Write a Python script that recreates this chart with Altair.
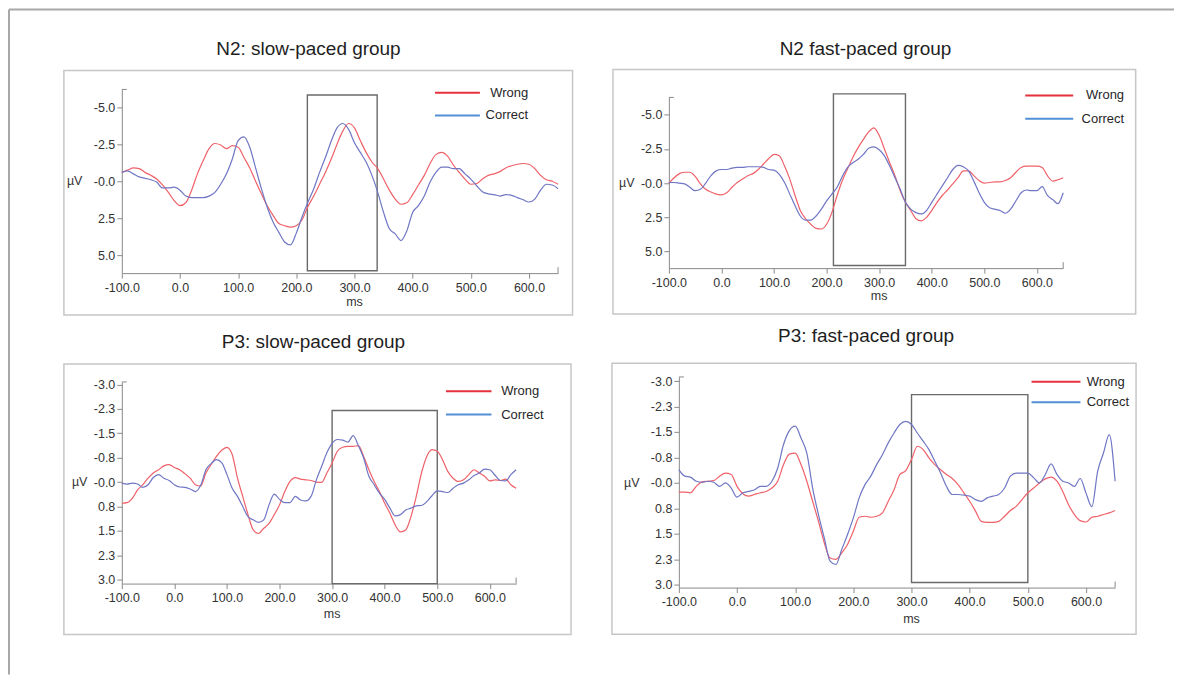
import json
import altair as alt
import pandas as pd

# ---------------- data ----------------
MS = [-100, -90, -80, -70, -60, -50, -40, -30, -20, -10,
      0, 10, 20, 30, 40, 50, 60, 70, 80, 90,
      100, 110, 120, 130, 140, 150, 160, 170, 180, 190,
      200, 210, 220, 230, 240, 250, 260, 270, 280, 290,
      300, 310, 320, 330, 340, 350, 360, 370, 380, 390,
      400, 410, 420, 430, 440, 450, 460, 470, 480, 490,
      500, 510, 520, 530, 540, 550, 560, 570, 580, 590,
      600, 610, 620, 630, 640, 650]

N2_SLOW_WRONG = [-0.6, -0.75, -0.9, -0.85, -0.6, -0.4, -0.15, 0.25, 0.75, 1.3,
                 1.65, 1.45, 0.6, -0.5, -1.4, -2.2, -2.55, -2.45, -2.2, -2.4,
                 -2.3, -1.6, -0.9, 0.0, 0.85, 1.65, 2.3, 2.85, 3.0, 3.1,
                 3.0, 2.6, 1.7, 1.0, 0.2, -0.6, -1.5, -2.5, -3.4, -3.9,
                 -3.6, -2.75, -1.95, -1.3, -0.85, -0.15, 0.6, 1.2, 1.55, 1.45,
                 0.9, 0.25, -0.4, -1.2, -1.8, -1.95, -1.7, -1.1, -0.6, -0.15,
                 0.2, 0.15, -0.15, -0.4, -0.5, -0.65, -0.9, -1.05, -1.15, -1.2,
                 -1.15, -0.85, -0.4, -0.1, 0.0, 0.2]
N2_SLOW_CORRECT = [-0.6, -0.7, -0.5, -0.3, -0.2, -0.1, 0.05, 0.45, 0.45, 0.4,
                   0.6, 1.0, 1.1, 1.1, 1.1, 1.0, 0.75, 0.2, -0.5, -1.5,
                   -2.75, -3.0, -2.3, -0.9, 0.5, 1.75, 2.75, 3.45, 4.1, 4.3,
                   3.5, 2.4, 1.4, 0.5, -0.6, -1.6, -2.7, -3.6, -3.9, -3.5,
                   -2.6, -1.95, -1.3, -0.4, 0.75, 2.1, 3.2, 3.55, 4.0, 3.35,
                   2.1, 1.65, 1.0, 0.05, -0.6, -0.95, -0.95, -0.85, -0.85, -0.5,
                   -0.15, 0.3, 0.7, 0.85, 0.9, 1.0, 0.9, 0.95, 1.1, 1.25,
                   1.4, 1.2, 0.6, 0.2, 0.25, 0.5]

N2_FAST_WRONG = [0.0, -0.4, -0.7, -0.8, -0.8, -0.5, 0.05, 0.45, 0.65, 0.8,
                 0.85, 0.7, 0.3, -0.05, -0.3, -0.55, -0.7, -1.0, -1.4, -1.8,
                 -2.1, -2.0, -1.25, -0.3, 0.9, 2.0, 2.6, 3.0, 3.3, 3.35,
                 3.0, 2.15, 0.9, -0.2, -1.05, -1.9, -2.6, -3.2, -3.75, -4.05,
                 -3.5, -2.5, -1.5, -0.55, 0.55, 1.4, 2.0, 2.6, 2.75, 2.5,
                 2.0, 1.4, 0.9, 0.5, 0.05, -0.4, -0.9, -0.9, -0.55, -0.2,
                 0.0, -0.05, -0.1, -0.1, -0.2, -0.4, -0.8, -1.15, -1.25, -1.25,
                 -1.25, -1.15, -0.55, -0.15, -0.25, -0.4]
N2_FAST_CORRECT = [-0.05, -0.05, 0.0, 0.05, 0.3, 0.55, 0.45, 0.0, -0.55, -0.9,
                   -1.0, -1.0, -1.1, -1.15, -1.15, -1.2, -1.2, -1.2, -1.15, -1.0,
                   -0.95, -0.65, -0.05, 0.8, 1.65, 2.4, 2.7, 2.7, 2.4, 1.9,
                   1.3, 0.8, 0.3, -0.5, -1.15, -1.5, -1.75, -2.1, -2.55, -2.65,
                   -2.45, -2.0, -1.25, -0.4, 0.45, 1.4, 1.9, 2.15, 2.25, 2.0,
                   1.4, 0.8, 0.2, -0.4, -1.0, -1.3, -1.2, -0.9, -0.15, 0.7,
                   1.4, 1.8, 1.9, 2.0, 2.2, 1.9, 1.3, 0.7, 0.5, 0.55,
                   0.55, 0.25, 0.9, 1.2, 1.5, 0.7]

P3_SLOW_WRONG = [0.65, 0.63, 0.5, 0.24, 0.08, -0.12, -0.28, -0.38, -0.5, -0.54,
                 -0.45, -0.38, -0.26, -0.12, 0.08, 0.12, -0.28, -0.54, -0.79, -0.98,
                 -1.07, -0.85, -0.12, 0.44, 1.0, 1.47, 1.58, 1.42, 1.27, 1.0,
                 0.7, 0.29, -0.02, -0.14, -0.09, -0.07, -0.05, 0.0, 0.01, -0.28,
                 -0.59, -0.95, -1.07, -1.1, -1.1, -1.12, -0.79, -0.38, -0.02, 0.29,
                 0.65, 0.96, 1.32, 1.53, 1.47, 1.06, 0.44, -0.28, -0.79, -1.0,
                 -0.95, -0.69, -0.33, -0.12, -0.02, -0.07, -0.23, -0.38, -0.28, -0.18,
                 -0.04, -0.07, -0.05, -0.09, 0.08, 0.19]
P3_SLOW_CORRECT = [0.03, 0.06, 0.03, 0.06, 0.16, 0.08, -0.14, -0.23, -0.12, -0.05,
                   0.08, 0.15, 0.16, 0.21, 0.29, 0.1, -0.38, -0.57, -0.69, -0.6,
                   -0.23, 0.19, 0.44, 0.75, 1.06, 1.16, 1.24, 1.16, 0.7, 0.37,
                   0.53, 0.63, 0.63, 0.44, 0.55, 0.58, 0.44, -0.07, -0.48, -0.9,
                   -1.19, -1.31, -1.29, -1.23, -1.43, -1.12, -0.74, -0.18, 0.08, 0.34,
                   0.53, 0.8, 1.04, 1.0, 0.86, 0.8, 0.73, 0.72, 0.6, 0.42,
                   0.27, 0.29, 0.32, 0.19, 0.08, 0.03, -0.07, -0.2, -0.28, -0.4,
                   -0.38, -0.21, -0.05, -0.04, -0.23, -0.38]

P3_FAST_WRONG = [0.27, 0.27, 0.29, 0.1, -0.03, -0.05, -0.07, -0.2, -0.29, -0.25,
                 0.1, 0.32, 0.39, 0.34, 0.29, 0.25, 0.15, -0.05, -0.54, -0.85,
                 -0.88, -0.54, -0.05, 0.54, 1.13, 1.76, 2.21, 2.25, 2.06, 1.81,
                 1.42, 1.01, 0.98, 1.01, 0.98, 0.88, 0.54, 0.2, -0.25, -0.36,
                 -0.69, -1.08, -0.98, -0.74, -0.54, -0.39, -0.25, -0.13, 0.05, 0.29,
                 0.54, 0.83, 1.13, 1.16, 1.16, 1.13, 0.98, 0.81, 0.69, 0.49,
                 0.29, 0.15, 0.0, -0.12, -0.17, -0.05, 0.25, 0.64, 0.93, 1.11,
                 1.15, 1.01, 0.98, 0.93, 0.88, 0.81]
P3_FAST_CORRECT = [-0.39, -0.2, -0.17, -0.05, -0.02, -0.05, -0.02, 0.1, 0.0, 0.15,
                   0.42, 0.29, 0.25, 0.2, 0.1, 0.1, -0.05, -0.44, -1.13, -1.54,
                   -1.67, -1.32, -0.88, 0.15, 0.93, 1.62, 2.3, 2.4, 1.96, 1.52,
                   1.03, 0.44, 0.05, -0.2, -0.54, -0.83, -1.18, -1.47, -1.72, -1.81,
                   -1.72, -1.47, -1.23, -0.98, -0.64, -0.29, 0.1, 0.34, 0.34, 0.36,
                   0.39, 0.49, 0.54, 0.44, 0.39, 0.34, 0.15, -0.2, -0.29, -0.29,
                   -0.29, -0.15, 0.0, -0.25, -0.56, -0.25, -0.05, 0.0, 0.1, -0.13,
                   0.3, 0.7, -0.34, -0.88, -1.42, -0.05]

# analysis windows: [start ms, end ms, top uV, bottom uV]
WIN_N2_SLOW = [219, 339, -5.82, 6.04]
WIN_N2_FAST = [213, 350, -6.53, 6.02]
WIN_P3_SLOW = [300, 500, -2.2, 3.12]
WIN_P3_FAST = [300, 500, -2.6, 2.93]

TITLES = ["N2: slow-paced group", "N2 fast-paced group",
          "P3: slow-paced group", "P3: fast-paced group"]
SERIES = ["Wrong", "Correct"]

X_TICKS = [-100, 0, 100, 200, 300, 400, 500, 600]
X_LABELS = ["-100.0", "0.0", "100.0", "200.0", "300.0", "400.0", "500.0", "600.0"]
N2_Y_TICKS = [-5, -2.5, 0, 2.5, 5]
N2_Y_LABELS = ["-5.0", "-2.5", "-0.0", "2.5", "5.0"]
P3_Y_TICKS = [-3, -2.25, -1.5, -0.75, 0, 0.75, 1.5, 2.25, 3]
P3_Y_LABELS = ["-3.0", "-2.3", "-1.5", "-0.8", "-0.0", "0.8", "1.5", "2.3", "3.0"]

# ---------------- style ----------------
FONT = "Liberation Sans"
RED_LINE = "#ef6169"
BLUE_LINE = "#6f76c4"
RED_KEY = "#e6313b"
BLUE_KEY = "#5290d6"
AXIS_C = "#8a8a8a"
ONE = alt.Data(values=[{}])


def lab_expr(vals, labels):
    return "%s[indexof(%s, datum.value)]" % (json.dumps(labels), json.dumps(vals))


def rule(x1, x2, y1, y2, color, w):
    return alt.Chart(ONE).mark_rule(color=color, strokeWidth=w).encode(
        x=alt.value(x1), x2=alt.value(x2), y=alt.value(y1), y2=alt.value(y2))


def text(x, y, s, size, align, color="#262626", baseline="middle"):
    return alt.Chart(ONE).mark_text(text=s, align=align, baseline=baseline, fontSize=size,
                                    font=FONT, color=color).encode(x=alt.value(x), y=alt.value(y))


def panel(title, wrong, correct, win, yticks, ylabels, ydom, W, H, xr, yr,
          frame, title_xy, leg, uv_x, ms_y, yoff=0, extra=()):
    n = len(MS)
    df = pd.DataFrame({"ms": MS + MS, "uv": wrong + correct,
                       "cond": [SERIES[0]] * n + [SERIES[1]] * n})
    common = dict(title=None, grid=False, labelFlush=False, labelOverlap=False,
                  domainColor=AXIS_C, tickColor=AXIS_C, tickSize=5, labelFont=FONT,
                  labelFontSize=12.5, labelColor="#333333")
    xax = alt.Axis(values=X_TICKS, labelExpr=lab_expr(X_TICKS, X_LABELS), labelPadding=3, **common)
    yax = alt.Axis(values=yticks, labelExpr=lab_expr(yticks, ylabels), labelPadding=2,
                   offset=yoff, **common)
    X = alt.X("ms:Q", scale=alt.Scale(domain=[-100, 650], range=xr, nice=False, zero=False), axis=xax)
    Y = alt.Y("uv:Q", scale=alt.Scale(domain=ydom, range=yr, nice=False, zero=False), axis=yax)

    lines = alt.Chart(df).mark_line(strokeWidth=1.2, interpolate="monotone").encode(
        x=X, y=Y,
        color=alt.Color("cond:N", scale=alt.Scale(domain=SERIES, range=[RED_LINE, BLUE_LINE]), legend=None),
    )
    box_df = pd.DataFrame({"ms": [win[0]], "ms2": [win[1]], "uv": [win[2]], "uv2": [win[3]]})
    box = alt.Chart(box_df).mark_rect(fillOpacity=0, stroke="#6a6a6a", strokeWidth=1.4).encode(
        x=X, x2="ms2:Q", y=Y, y2="uv2:Q")

    fr = alt.Chart(ONE).mark_rect(fillOpacity=0, stroke="#c6c6c6", strokeWidth=1.5).encode(
        x=alt.value(frame[0]), x2=alt.value(frame[1]), y=alt.value(frame[2]), y2=alt.value(frame[3]))

    uv_lab = alt.Chart(pd.DataFrame({"uv": [0]})).mark_text(
        text="µV", align="left", baseline="middle", fontSize=12.5, font=FONT, color="#333333").encode(
        x=alt.value(uv_x), y=Y)
    ms_lab = alt.Chart(pd.DataFrame({"ms": [300]})).mark_text(
        text="ms", align="center", baseline="middle", fontSize=12.5, font=FONT, color="#333333").encode(
        x=X, y=alt.value(ms_y))

    lx1, lx2, ly1, ly2, tx, talign = leg
    layers = [fr, box, lines,
              rule(lx1, lx2, ly1, ly1, RED_KEY, 2),
              rule(lx1, lx2, ly2, ly2, BLUE_KEY, 2),
              text(tx, ly1, SERIES[0], 13, talign),
              text(tx, ly2, SERIES[1], 13, talign),
              text(title_xy[0], title_xy[1], title, 19, "center", "#1e1e1e", "alphabetic"),
              uv_lab, ms_lab,
              # axis end caps
              rule(xr[0], xr[0] + 5, yr[0], yr[0], AXIS_C, 1),
              rule(xr[1], xr[1], yr[1], yr[1] - 6, AXIS_C, 1)]
    layers += list(extra)
    return alt.layer(*layers).properties(width=W, height=H)


# page border (drawn within the first panel's coordinates); its outer bounds set the origin
border = [rule(-113, 1054, -80, -80, "#a8a8a8", 2),
          rule(-113, -113, -80, 586, "#a8a8a8", 2)]

p1 = panel(TITLES[0], N2_SLOW_WRONG, N2_SLOW_CORRECT, WIN_N2_SLOW, N2_Y_TICKS, N2_Y_LABELS,
           [-6.2, 6.2], 437, 184, [0, 437], [0, 184],
           (-58, 451.5, -19, 226), (187, -34),
           (313.7, 358.7, 3.3, 26, 407, "right"), -55, 213, extra=border)
p2 = panel(TITLES[1], N2_FAST_WRONG, N2_FAST_CORRECT, WIN_N2_FAST, N2_Y_TICKS, N2_Y_LABELS,
           [-6.27, 6.21], 395, 179, [0, 395], [8, 179],
           (-56, 467.6, -20, 225), (197, -34),
           (357, 405, 6, 29.3, 456, "right"), -50, 207)
p3 = panel(TITLES[2], P3_SLOW_WRONG, P3_SLOW_CORRECT, WIN_P3_SLOW, P3_Y_TICKS, P3_Y_LABELS,
           [-3.08, 3.12], 437, 207, [0, 395], [5, 207],
           (-58, 450, -13, 258), (192, -29),
           (324.7, 370.3, 14.3, 37.7, 380, "left"), -50, 237)
p4 = panel(TITLES[3], P3_FAST_WRONG, P3_FAST_CORRECT, WIN_P3_FAST, P3_Y_TICKS, P3_Y_LABELS,
           [-3.12, 3.08], 447, 211, [10, 447], [0, 211],
           (-57, 468, -13.7, 257.7), (197.5, -35),
           (363.3, 412.3, 4.7, 25.3, 418.5, "left"), -45, 242.7, yoff=-10)

chart = alt.concat(p1, p2, p3, p4, columns=2, spacing={"row": 104, "column": 111},
                   bounds="flush", align="each").properties(
    padding=0, autosize=alt.AutoSizeParams(type="pad"), background="white"
).configure(padding=0).configure_view(strokeWidth=0)

chart.save("out.html", embed_options={"renderer": "svg", "actions": False})
